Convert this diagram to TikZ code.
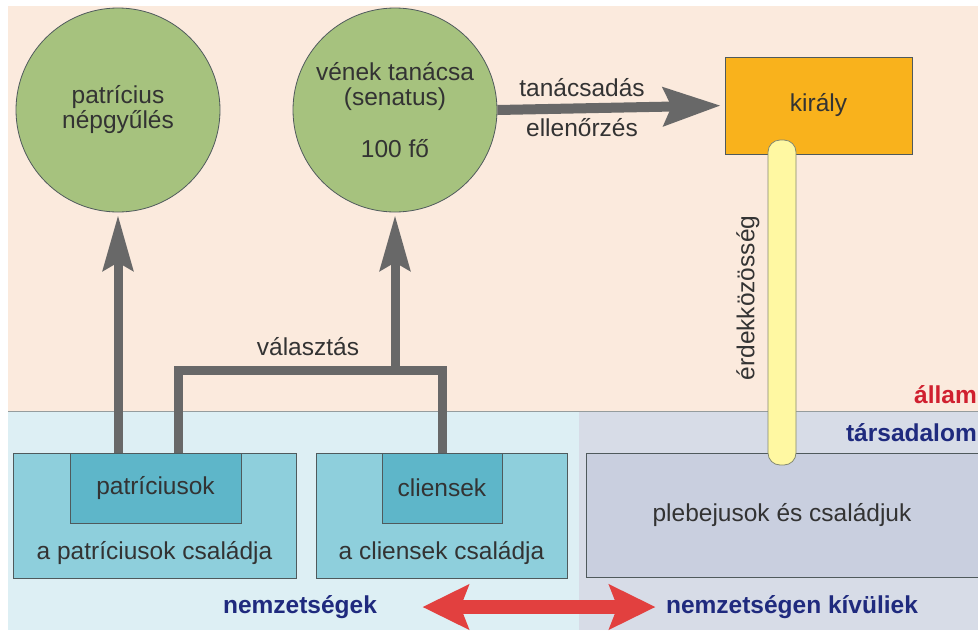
\documentclass[tikz,border=0pt]{standalone}
\usepackage{fontspec}
\setmainfont{Liberation Sans}
\usetikzlibrary{arrows.meta,calc}

\definecolor{statebg}{HTML}{FBEADD}
\definecolor{clanbg}{HTML}{DDEFF4}
\definecolor{plebbg}{HTML}{D7DCE7}
\definecolor{circlefill}{HTML}{A6C27E}
\definecolor{kingfill}{HTML}{F9B21C}
\definecolor{bondfill}{HTML}{FFF8A2}
\definecolor{famfill}{HTML}{8ECFDC}
\definecolor{corefill}{HTML}{5EB6C9}
\definecolor{plebfill}{HTML}{C9CFDF}
\definecolor{arrowgray}{HTML}{686868}
\definecolor{arrowred}{HTML}{E2403F}
\definecolor{navy}{HTML}{1F2A7E}
\definecolor{statered}{HTML}{D0202F}
\definecolor{txtgray}{HTML}{333333}
\definecolor{edgegray}{HTML}{4F5A5C}

\begin{document}
\begin{tikzpicture}[x=1pt, y=-1pt,
  every node/.style={font=\fontsize{24.5}{25}\selectfont, text=txtgray},
  assembly/.style={circle, draw=edgegray, fill=circlefill, thick, minimum size=204pt, inner sep=0pt, align=center},
  king/.style={draw=edgegray, fill=kingfill, thick, minimum width=187pt, minimum height=97pt},
  family/.style={draw=edgegray, fill=famfill, thick, minimum width=#1, minimum height=125pt},
  core/.style={draw=edgegray, fill=corefill, thick, minimum width=#1, minimum height=70pt},
  bond/.style={draw=edgegray!70!bondfill, fill=bondfill, thick, rounded corners=12pt, minimum width=28pt, minimum height=325pt},
  layer/.style={font=\fontsize{24.5}{25}\selectfont\bfseries},
  vote line/.style={draw=arrowgray, line width=9pt, line join=miter},
  vote arrow/.style={vote line, -{Stealth[length=55pt, width=30pt, inset=8pt]}, shorten >=3pt},
  advice arrow/.style={draw=arrowgray, line width=10pt, -{Stealth[length=57pt, width=38pt, inset=8pt]}, shorten >=4pt},
  clan arrow/.style={draw=arrowred, line width=14pt, {Stealth[length=46pt, width=44pt, inset=8pt]}-{Stealth[length=46pt, width=44pt, inset=8pt]}}
]
\useasboundingbox (0,0) rectangle (978,630);

% the three layers
\fill[statebg] (8,6) rectangle (978,411);
\fill[clanbg] (8,411) rectangle (579,630);
\fill[plebbg] (579,411) rectangle (978,630);
\draw[edgegray!60, thin] (8,411) -- (978,411);

% state
\node[assembly] (nepgy) at (118,110) {patrícius\\népgyűlés};
\node[assembly] (sen) at (395,110) {vének tanácsa\\(senatus)\\[27pt]100 fő};
\node[king] (kir) at (818.5,105.5) {király};

% society
\node[family=283pt] (patrfam) at (154.5,515.5) {};
\node[core=171pt] (patr) at (155.5,488) {patríciusok};
\node (patrtxt) at (154.5,553) {a patríciusok családja};
\node[family=251pt] (clifam) at (441.5,515.5) {};
\node[core=120pt] (cli) at (442,488) {cliensek};
\node (clitxt) at (441.5,553) {a cliensek családja};
\node[draw=edgegray, fill=plebfill, thick, minimum width=392pt, minimum height=124pt] (pleb) at (782,515) {plebejusok és családjuk};

\node[bond] (bnd) at (782,302.5) {};
\node[rotate=90] (bndtxt) at (748,298) {érdekközösség};

% connectors
\coordinate (bar) at (0,370);
\draw[vote arrow] (nepgy.south |- patr.north) -- (nepgy.south);
\draw[vote line] ($(patr.north)+(23,0)$) |- (bar -| cli.north) -- (cli.north);
\draw[vote arrow] (sen.south |- bar) -- (sen.south);
\node (valaszt) at (308,347) {választás};

\draw[advice arrow] (sen.east) -- (kir.west);
\node (advice) at (582,88) {tanácsadás};
\node (control) at (582,128) {ellenőrzés};

% labels
\node[layer, text=statered, anchor=east, inner sep=1pt] (allam) at (978,395) {állam};
\node[layer, text=navy, anchor=east, inner sep=1pt] (tars) at (978,433) {társadalom};
\node[layer, text=navy] (clans) at (300,607) {nemzetségek};
\node[layer, text=navy] (outs) at (792,607) {nemzetségen kívüliek};
\draw[clan arrow] ($(clans.east)+(42,0)$) -- ($(outs.west)+(-7,0)$);
\end{tikzpicture}
\end{document}
